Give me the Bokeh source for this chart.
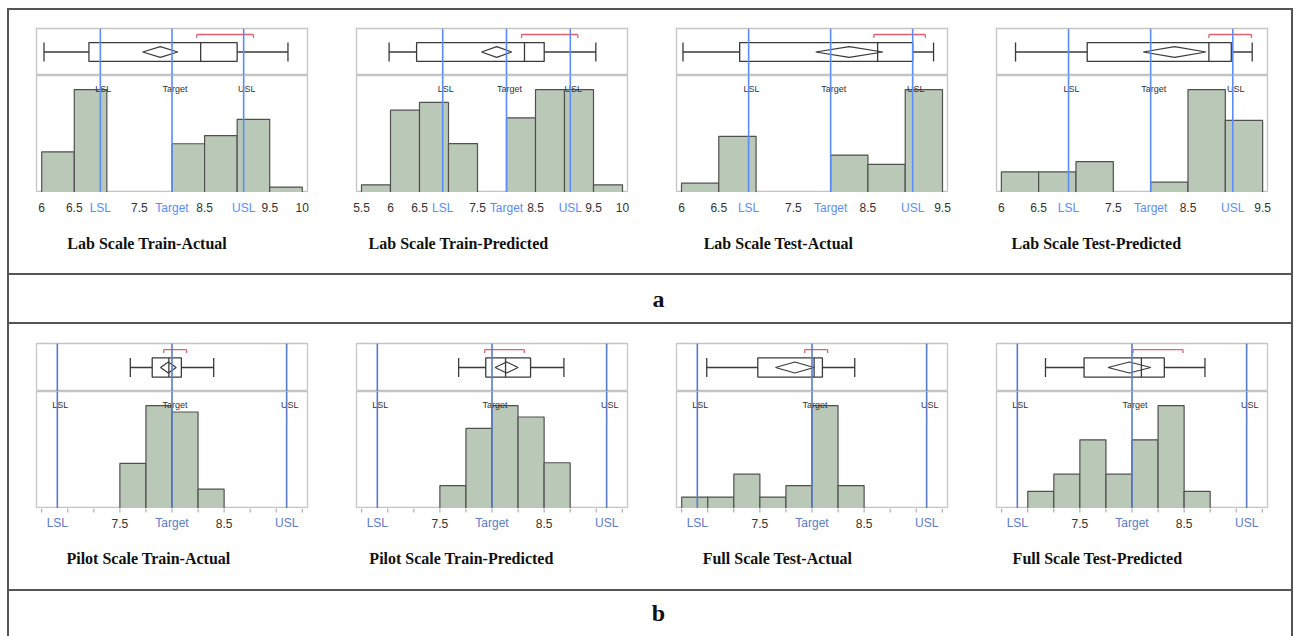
from bokeh.plotting import figure
from bokeh.models import Range1d, Span, Div, Spacer
from bokeh.layouts import row, column
from bokeh.core.properties import value
from bokeh.embed import file_html
from bokeh.resources import INLINE

# ---------------- data ----------------
spec_names = ["LSL", "Target", "USL"]
spec_values = [6.9, 8.0, 9.1]

titles_a = ["Lab Scale Train-Actual", "Lab Scale Train-Predicted",
            "Lab Scale Test-Actual", "Lab Scale Test-Predicted"]
titles_b = ["Pilot Scale Train-Actual", "Pilot Scale Train-Predicted",
            "Full Scale Test-Actual", "Full Scale Test-Predicted"]
section_labels = ["a", "b"]

# histogram bins (left edges) and counts
a1_bins = [6.0, 6.5, 7.0, 7.5, 8.0, 8.5, 9.0, 9.5]
a1_counts = [15, 38, 0, 0, 18, 21, 27, 2]
a2_bins = [5.5, 6.0, 6.5, 7.0, 7.5, 8.0, 8.5, 9.0, 9.5]
a2_counts = [3, 32, 35, 19, 0, 29, 40, 40, 3]
a3_bins = [6.0, 6.5, 7.0, 7.5, 8.0, 8.5, 9.0]
a3_counts = [1, 6, 0, 0, 4, 3, 11]
a4_bins = [6.0, 6.5, 7.0, 7.5, 8.0, 8.5, 9.0]
a4_counts = [2, 2, 3, 0, 1, 10, 7]
b1_bins = [7.5, 7.75, 8.0, 8.25]
b1_counts = [7, 16, 15, 3]
b2_bins = [7.5, 7.75, 8.0, 8.25, 8.5]
b2_counts = [2, 7, 9, 8, 4]
b3_bins = [6.75, 7.0, 7.25, 7.5, 7.75, 8.0, 8.25]
b3_counts = [1, 1, 3, 1, 2, 9, 2]
b4_bins = [7.0, 7.25, 7.5, 7.75, 8.0, 8.25, 8.5]
b4_counts = [1, 2, 4, 2, 4, 6, 1]
bin_width_a = 0.5
bin_width_b = 0.25

# box plots: whisker low, Q1, median, Q3, whisker high
a1_box = [6.035, 6.725, 8.44, 9.0, 9.78]
a2_box = [5.976, 6.45, 8.31, 8.65, 9.54]
a3_box = [6.02, 6.78, 8.63, 9.10, 9.38]
a4_box = [6.19, 7.15, 8.78, 9.08, 9.36]
b1_box = [7.60, 7.81, 7.97, 8.09, 8.40]
b2_box = [7.68, 7.94, 8.13, 8.37, 8.69]
b3_box = [6.99, 7.48, 8.02, 8.10, 8.41]
b4_box = [7.17, 7.54, 8.09, 8.31, 8.70]

# means diamond (lower / upper confidence limit)
a1_mean_ci = [7.55, 8.09]
a2_mean_ci = [7.57, 8.09]
a3_mean_ci = [7.80, 8.70]
a4_mean_ci = [7.90, 8.74]
b1_mean_ci = [7.89, 8.04]
b2_mean_ci = [8.03, 8.25]
b3_mean_ci = [7.65, 8.02]
b4_mean_ci = [7.77, 8.18]

# shortest half bracket
a1_short = [8.38, 9.25]
a2_short = [8.26, 9.23]
a3_short = [8.58, 9.27]
a4_short = [8.78, 9.35]
b1_short = [7.92, 8.14]
b2_short = [7.93, 8.31]
b3_short = [7.93, 8.15]
b4_short = [8.01, 8.49]

# axis ranges and tick labels
a1_xrange = [5.92, 10.08]
a2_xrange = [5.414, 10.086]
a3_xrange = [5.933, 9.567]
a4_xrange = [5.935, 9.565]
b_xrange = [6.7, 9.3]
a1_ticks = [6, 6.5, 7.5, 8.5, 9.5, 10]
a1_tick_labels = ["6", "6.5", "7.5", "8.5", "9.5", "10"]
a2_ticks = [5.5, 6, 6.5, 7.5, 8.5, 9.5, 10]
a2_tick_labels = ["5.5", "6", "6.5", "7.5", "8.5", "9.5", "10"]
a3_ticks = [6, 6.5, 7.5, 8.5, 9.5]
a3_tick_labels = ["6", "6.5", "7.5", "8.5", "9.5"]
a4_ticks = [6, 6.5, 7.5, 8.5, 9.5]
a4_tick_labels = ["6", "6.5", "7.5", "8.5", "9.5"]
b_ticks = [7.5, 8.5]
b_tick_labels = ["7.5", "8.5"]
b_minor_ticks = [6.75, 7.0, 7.25, 7.5, 7.75, 8.0, 8.25, 8.5, 8.75, 9.0, 9.25]

# ---------------- styles ----------------
BAR_FILL = "#bac8b7"
BAR_LINE = "#505050"
BOX_LINE = "#3a3a3a"
OUTLINE = "#c4c4c4"
RED = "#e0606e"
FRAME = "#555555"
BLUE_A = "#5b8cf8"
BLUE_B = "#5a7bc9"
INNER_W = 1282
PANEL_W = 320
B_LEFT = 27
B_RIGHT = 22
FRAME_W = PANEL_W - B_LEFT - B_RIGHT
STRIP_H = 81


def style_fig(f):
    f.outline_line_color = OUTLINE
    f.outline_line_width = 1.3
    f.background_fill_color = "white"
    f.border_fill_color = "white"
    f.grid.visible = False


def make_panel(bins, counts, bw, box, mci, short, xr, box_h, box_top, blue):
    x_range = Range1d(xr[0], xr[1])
    bp = figure(width=PANEL_W, height=box_h, x_range=x_range, y_range=Range1d(0, 1),
                output_backend="svg", toolbar_location=None,
                x_axis_location=None, y_axis_location=None,
                min_border_left=B_LEFT, min_border_right=B_RIGHT,
                min_border_top=box_top, min_border_bottom=0)
    style_fig(bp)
    for v in spec_values:
        bp.add_layout(Span(location=v, dimension="height", line_color=blue, line_width=1.6))
    wlo, q1, med, q3, whi = box
    bp.quad(left=[q1], right=[q3], bottom=[0.3], top=[0.7], fill_color=None,
            line_color=BOX_LINE, line_width=1.3)
    bp.segment(x0=[wlo, q3, wlo, whi, med], y0=[0.5, 0.5, 0.3, 0.3, 0.3],
               x1=[q1, whi, wlo, whi, med], y1=[0.5, 0.5, 0.7, 0.7, 0.7],
               line_color=BOX_LINE, line_width=1.3)
    m = (mci[0] + mci[1]) / 2
    bp.patch(x=[mci[0], m, mci[1], m], y=[0.5, 0.615, 0.5, 0.385], fill_color=None,
             line_color=BOX_LINE, line_width=1.2)
    bp.segment(x0=[short[0], short[0], short[1]], y0=[0.872, 0.872, 0.872],
               x1=[short[1], short[0], short[1]], y1=[0.872, 0.8, 0.8],
               line_color=RED, line_width=1.3)

    ymax = max(counts) / 0.88
    hp = figure(width=PANEL_W, height=117, x_range=x_range, y_range=Range1d(0, ymax),
                output_backend="svg", toolbar_location=None,
                x_axis_location=None, y_axis_location=None,
                min_border_left=B_LEFT, min_border_right=B_RIGHT,
                min_border_top=0, min_border_bottom=0)
    style_fig(hp)
    nz = [i for i, c in enumerate(counts) if c > 0]
    hp.quad(left=[bins[i] for i in nz], right=[bins[i] + bw for i in nz],
            bottom=0, top=[counts[i] for i in nz],
            fill_color=BAR_FILL, line_color=BAR_LINE, line_width=1.2)
    for v in spec_values:
        hp.add_layout(Span(location=v, dimension="height", line_color=blue, line_width=1.6))
    hp.text(x=spec_values, y=[ymax * (1 - 13.5 / 117)] * 3, text=spec_names,
            text_font=value("Liberation Sans"), text_font_size="9px",
            text_color="#333333", text_align="center", text_baseline="middle", x_offset=3)
    return column(bp, hp, spacing=0)


def axis_and_title_strip(xranges, ticks_list, labels_list, minor, blue, label_y,
                         titles, title_x, title_y):
    """Tick labels of the four panels (each through its own panel's data scale)
    plus the panel titles below them."""
    f = figure(width=INNER_W, height=STRIP_H, x_range=Range1d(0, INNER_W),
               y_range=Range1d(0, STRIP_H), output_backend="svg", toolbar_location=None,
               x_axis_location=None, y_axis_location=None, min_border=0)
    f.outline_line_color = None
    f.grid.visible = False
    extra = {}
    for i, xr in enumerate(xranges):
        u = (xr[1] - xr[0]) / FRAME_W
        start = xr[0] - (B_LEFT + PANEL_W * i) * u
        extra["p%d" % i] = Range1d(start, start + INNER_W * u)
    f.extra_x_ranges = extra
    for i, (ticks, labels) in enumerate(zip(ticks_list, labels_list)):
        name = "p%d" % i
        if minor:
            f.segment(x0=minor, y0=[STRIP_H] * len(minor), x1=minor,
                      y1=[STRIP_H - 4] * len(minor), line_color="#9a9a9a",
                      line_width=1, x_range_name=name)
        f.text(x=ticks, y=[label_y] * len(ticks), text=labels, x_range_name=name,
               text_font=value("Liberation Sans"), text_font_size="12px",
               text_color="#333333", text_align="center", text_baseline="middle")
        f.text(x=spec_values, y=[label_y] * 3, text=spec_names, x_range_name=name,
               text_font=value("Liberation Sans"), text_font_size="12px",
               text_color=blue, text_align="center", text_baseline="middle")
    f.text(x=title_x, y=[title_y] * len(titles), text=titles,
           text_font=value("Liberation Serif"), text_font_style=value("bold"),
           text_font_size="16px", text_color="#111111",
           text_align="center", text_baseline="middle")
    return f


def text_strip(h, xs, y, texts, size):
    f = figure(width=INNER_W, height=h, x_range=Range1d(0, INNER_W), y_range=Range1d(0, h),
               output_backend="svg", toolbar_location=None,
               x_axis_location=None, y_axis_location=None, min_border=0)
    f.outline_line_color = None
    f.grid.visible = False
    f.text(x=xs, y=[y] * len(texts), text=texts, text_font=value("Liberation Serif"),
           text_font_style=value("bold"), text_font_size=size, text_color="#111111",
           text_align="center", text_baseline="middle")
    return f


def hline():
    return Div(text="", width=INNER_W, height=2, margin=0,
               styles={"background-color": FRAME})


def vline():
    return Div(text="", width=2, height=628, margin=0,
               styles={"background-color": FRAME})


row_a = row(
    make_panel(a1_bins, a1_counts, bin_width_a, a1_box, a1_mean_ci, a1_short, a1_xrange, 65, 18, BLUE_A),
    make_panel(a2_bins, a2_counts, bin_width_a, a2_box, a2_mean_ci, a2_short, a2_xrange, 65, 18, BLUE_A),
    make_panel(a3_bins, a3_counts, bin_width_a, a3_box, a3_mean_ci, a3_short, a3_xrange, 65, 18, BLUE_A),
    make_panel(a4_bins, a4_counts, bin_width_a, a4_box, a4_mean_ci, a4_short, a4_xrange, 65, 18, BLUE_A),
    spacing=0)
row_b = row(
    make_panel(b1_bins, b1_counts, bin_width_b, b1_box, b1_mean_ci, b1_short, b_xrange, 67, 19, BLUE_B),
    make_panel(b2_bins, b2_counts, bin_width_b, b2_box, b2_mean_ci, b2_short, b_xrange, 67, 19, BLUE_B),
    make_panel(b3_bins, b3_counts, bin_width_b, b3_box, b3_mean_ci, b3_short, b_xrange, 67, 19, BLUE_B),
    make_panel(b4_bins, b4_counts, bin_width_b, b4_box, b4_mean_ci, b4_short, b_xrange, 67, 19, BLUE_B),
    spacing=0)

strip_a = axis_and_title_strip(
    [a1_xrange, a2_xrange, a3_xrange, a4_xrange],
    [a1_ticks, a2_ticks, a3_ticks, a4_ticks],
    [a1_tick_labels, a2_tick_labels, a3_tick_labels, a4_tick_labels],
    [], BLUE_A, STRIP_H - 15, titles_a, [137.7, 449, 769, 1087], 30.3)
strip_b = axis_and_title_strip(
    [b_xrange] * 4, [b_ticks] * 4, [b_tick_labels] * 4,
    b_minor_ticks, BLUE_B, STRIP_H - 14.5, titles_b, [139, 452, 768, 1088], 31.3)

label_a = text_strip(47, [649], 24, section_labels[:1], "24px")
label_b = text_strip(45, [649], 24, section_labels[1:], "24px")

inner = column(hline(), row_a, strip_a, hline(), label_a, hline(),
               row_b, strip_b, hline(), label_b, spacing=0)
page = column(Spacer(width=1294, height=8),
              row(Spacer(width=7, height=628), vline(), inner, vline(), spacing=0),
              spacing=0)

open("out.html", "w").write(file_html(page, INLINE))
